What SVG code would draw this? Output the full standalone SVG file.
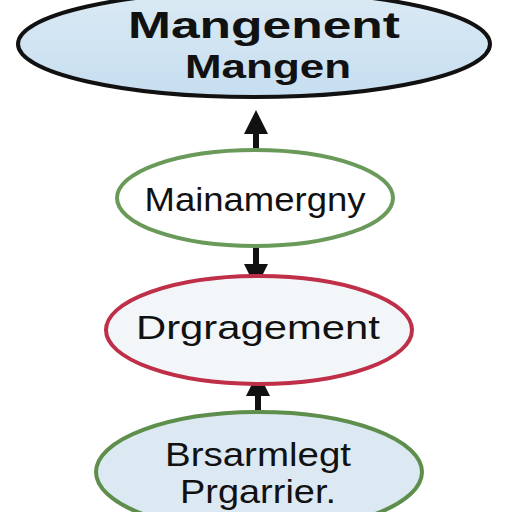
<svg xmlns="http://www.w3.org/2000/svg" width="512" height="512" viewBox="0 0 512 512">
<style>
text{font-family:"Liberation Sans",Arial,sans-serif;fill:#111;text-anchor:middle}
.arrow{stroke:#111;stroke-width:6;fill:none}
</style>
<defs>
<marker id="ah" viewBox="0 0 10 10" refX="5" refY="5" markerWidth="4" markerHeight="4" orient="auto-start-reverse" markerUnits="strokeWidth">
<path d="M0,0 L10,5 L0,10 z" fill="#111"/>
</marker>
<linearGradient id="lb" x1="0" y1="0" x2="0" y2="1"><stop offset="0" stop-color="#dbeaf4"/><stop offset="1" stop-color="#c6def0"/></linearGradient>
</defs>
<rect width="512" height="512" fill="#fff"/>
<g id="connectors">
<line class="arrow" x1="256" y1="150" x2="256" y2="122" marker-end="url(#ah)"/>
<line class="arrow" x1="256" y1="246" x2="256" y2="276" marker-end="url(#ah)"/>
<line class="arrow" x1="258" y1="412" x2="258" y2="384" marker-end="url(#ah)"/>
</g>
<g id="n1">
<ellipse cx="254" cy="44" rx="236" ry="53" fill="url(#lb)" stroke="#111" stroke-width="4"/>
<text x="264" y="38" font-size="36" font-weight="bold" textLength="272" lengthAdjust="spacingAndGlyphs">Mangenent</text>
<text x="268" y="78" font-size="34" font-weight="bold" textLength="166" lengthAdjust="spacingAndGlyphs">Mangen</text>
</g>
<g id="n2">
<ellipse cx="255" cy="198" rx="138" ry="48" fill="#fff" stroke="#6a9a5a" stroke-width="4"/>
<text x="255" y="211" font-size="33" textLength="221" lengthAdjust="spacingAndGlyphs">Mainamergny</text>
</g>
<g id="n3">
<ellipse cx="259" cy="330" rx="153" ry="54" fill="#f2f6f9" stroke="#bf2f48" stroke-width="4"/>
<text x="258" y="339" font-size="33" textLength="244" lengthAdjust="spacingAndGlyphs">Drgragement</text>
</g>
<g id="n4">
<ellipse cx="259" cy="472" rx="163" ry="60" fill="#dce9f2" stroke="#5e8e4c" stroke-width="4"/>
<text x="258" y="466" font-size="34" textLength="186" lengthAdjust="spacingAndGlyphs">Brsarmlegt</text>
<text x="258" y="503" font-size="34" textLength="156" lengthAdjust="spacingAndGlyphs">Prgarrier.</text>
</g>
</svg>
